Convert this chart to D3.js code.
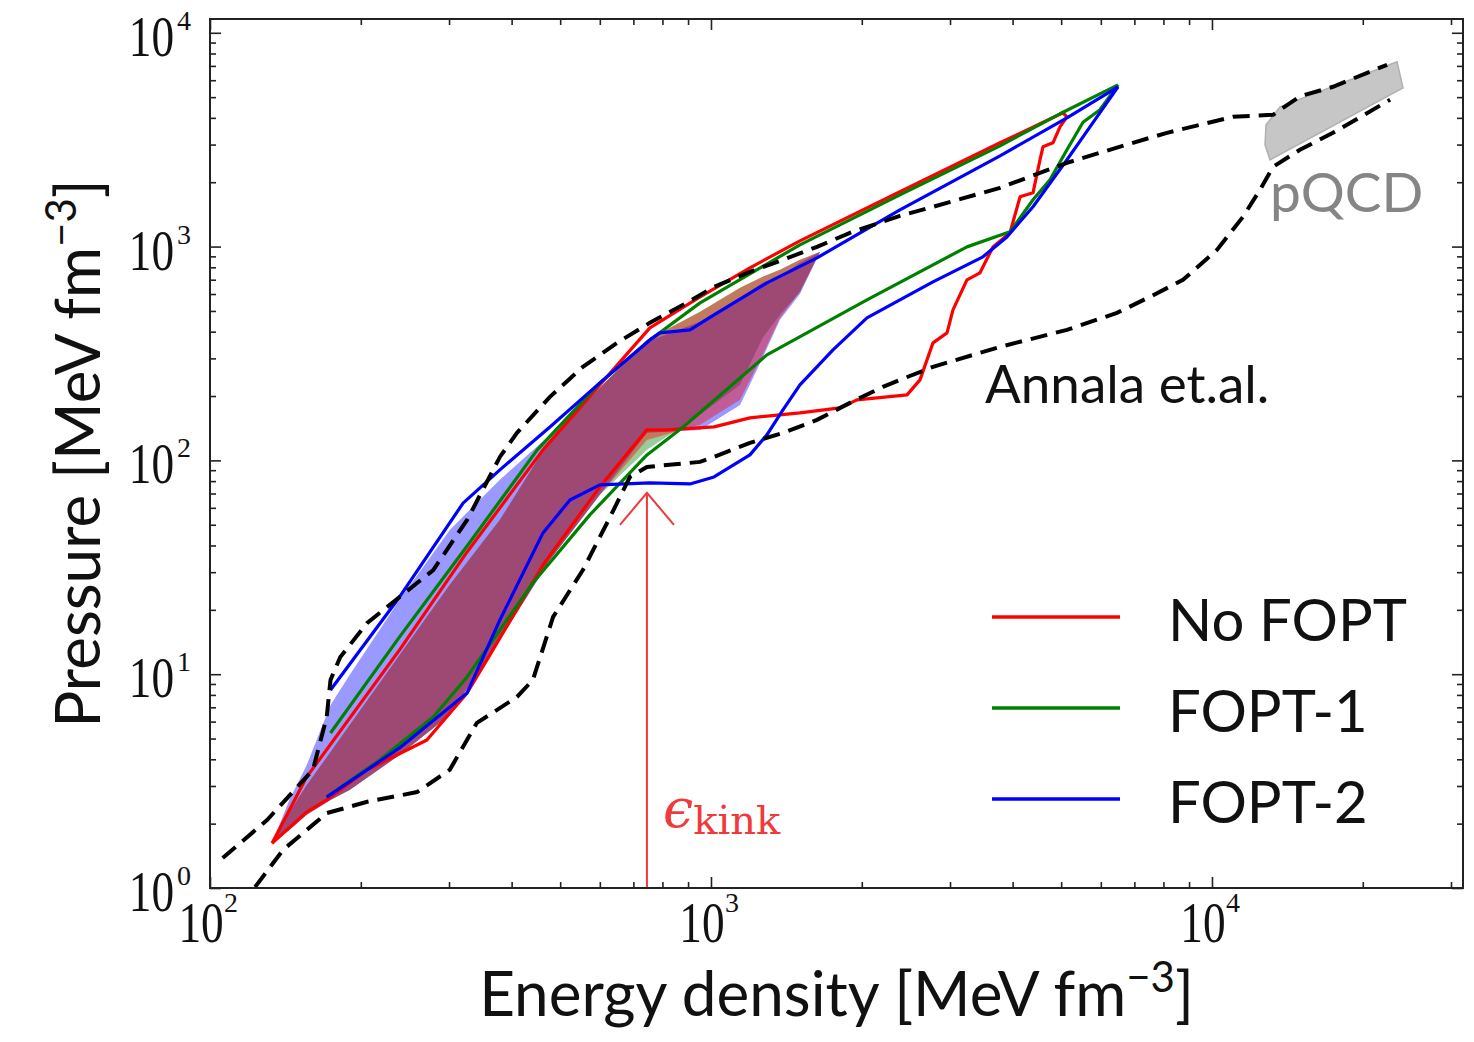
<!DOCTYPE html>
<html><head><meta charset="utf-8">
<script src="https://cdn.jsdelivr.net/npm/d3@7"></script>
<style>body{margin:0;background:#fff}</style>
</head><body>
<svg id="c" width="1474" height="1042"></svg>
<script>
// ---------------- DATA (energy density e, pressure p in MeV fm^-3) ----------------
// shaded bands (common energy grid)
const bandE         = [133,144,156,174,190,239,301,379,477,600,745,951,1143,1268,1373,1505,1651];
const redGreenTop   = [1.62,2.27,3.03,4.33,5.79,12.3,26.2,52.7,124.7,218.4,366,495.1,641.2,722.0,778.4,867,945];
const blueTop       = [1.62,2.58,3.76,7.18,9.92,22.3,47.3,81.1,131.6,218.4,358.4,444.6,575.8,676.8,722.0,839.5,945];
const greenBottom   = [1.62,1.87,2.20,2.58,2.87,4.19,6.45,14.46,34.2,69.0,112,163.3,225.6,374.2,479.5,614.3,945];
const redBottom     = [1.62,1.87,2.20,2.58,2.87,4.19,6.45,14.46,34.2,69.0,124.7,146.6,191.9,311.6,464.3,614.3,945];
const blueBottom    = [1.62,1.87,2.20,2.58,2.87,4.19,6.45,14.46,34.2,69.0,134.5,138.9,181.8,301.7,454.3,600.9,945];

// No FOPT (red)
const redUpperE = [133,156,239,326,462,600,755,951,1196,1505,2383,3775,5042];
const redUpperP = [1.62,3.31,12.99,37.3,112,225.6,416.8,582,795.7,1064,1804,3058,4224];
const redLowerE = [133,156,171,206,271,326,367,462,600,745,817,1014,1196,1505,1809,1956,2462,2613,2774,2959,3041,3243,3443,3655,3952,4139,4393,4536,4599,4815,4973,5135,5042];
const redLowerP = [1.62,2.27,2.58,3.57,4.92,8.17,12.99,32.4,75.2,138.9,138.9,143.4,158.1,166.8,176.1,191.9,202.5,238,354.5,394.9,505.9,699,753.8,997,1160,1709,1784,2546,2929,3058,3633,4046,4224];

// FOPT-1 (green)
const greenUpperE = [174,239,326,450,600,755,951,1505,2383,3775,4973,6493];
const greenUpperP = [5.31,14.94,39.8,112,230.5,366,545.5,1019,1746,2960,4179,5710];
const greenLowerE = [171,218,279,326,379,441,573,745,880,1293,2048,3243,3952,4393,4750,5135,5528,5977,6493];
const greenLowerP = [2.66,3.97,6.31,9.71,16.1,26.7,55.6,106.1,143.4,311.6,563.5,997,1172,1655,2053,2836,3815,4363,5710];

// FOPT-2 (blue)
const blueUpperE = [174,239,320,379,477,600,755,791,908,1014,1293,1628,2383,3775,5135,6493];
const blueUpperP = [8.44,22.98,63.1,90.3,143.4,230.5,366,394.9,407.8,479.5,676.8,886.0,1485,2658,4003,5590];
const blueLowerE = [171,239,326,379,462,523,600,755,908,1014,1196,1293,1392,1505,1752,2048,2383,2774,3490,3897,4393,5135,5528,6493];
const blueLowerP = [2.66,4.52,8.17,17.94,45.8,65.3,76.8,78.5,77.6,83.7,106.1,131.6,172.3,225.6,328.9,464.3,563.5,684.1,895.4,1110,1535,2546,3262,5590];

// Annala et al. envelope (dashed)
const annalaUpperE = [106,130,160.5,171,174,182,206,239,279,326,379,410,477,555,649,755,880,1014,1196,1392,1628,1894,2383,2774,3775,5135,6060,7520,8133,11013,13240,14980,17440,22360];
const annalaUpperP = [1.38,2.08,3.57,6.31,9.40,12.04,17.37,22.98,30.7,52.7,103.8,134.5,198.2,273.8,354.5,439.8,534,648,762,867,997,1160,1393,1535,1883,2465,2775,3228,3405,4046,4135,5045,5590,7085];
const annalaLowerE = [123,140,171,206,259,301,341,410,441,484,555,629,689,745,951,1014,1196,1392,1628,1894,2204,2383,2774,3775,5135,6463,7520,8753,10230,11530,12470,13240,14980,17440,22670];
const annalaLowerP = [1.01,1.51,2.24,2.53,2.81,3.57,5.92,7.83,9.40,18.53,30.7,54.4,83.7,93.2,98.4,103.8,120.8,134.5,154.7,185.8,220.8,238,273.8,339.6,407.8,489.9,582,699,965,1378,1843,2361,2836,3405,4860];

// pQCD region
const pqcdE = [12760,13055,24060,23410,13670,12820];
const pqcdP = [2992,2546,5530,7316,4506,3712];

// kink arrow
const kinkE = 745;
const kinkArrowP = [1, 70.5];

// axes
const xMajor = [100, 1000, 10000];
const xMajorExp = ["2","3","4"];
const yMajor = [1, 10, 100, 1000, 10000];
const yMajorExp = ["0","1","2","3","4"];
const legendLabels = ["No FOPT", "FOPT-1", "FOPT-2"];
const seriesColors = ["#ff0000", "#008000", "#0000ff"];

// ---------------- CHART ----------------
const svg = d3.select("#c");
const X0 = 210, X1 = 1463, Y0 = 888, Y1 = 19;
const x = d3.scaleLog().domain([100, 31700]).range([X0, X1]);
const y = d3.scaleLog().domain([1, 11600]).range([Y0, Y1]);

svg.append("defs").append("clipPath").attr("id", "clip")
  .append("rect").attr("x", X0).attr("y", Y1).attr("width", X1 - X0).attr("height", Y0 - Y1);
const plot = svg.append("g").attr("clip-path", "url(#clip)");

const zip = (es, ps) => es.map((e, i) => [e, ps[i]]);
const line = d3.line().x(d => x(d[0])).y(d => y(d[1]));
const area = d3.area().x(d => x(d[0])).y0(d => y(d[1])).y1(d => y(d[2]));

// bands: green, blue, red (alpha blended)
[[seriesColors[1], greenBottom, redGreenTop],
 [seriesColors[2], blueBottom, blueTop],
 [seriesColors[0], redBottom, redGreenTop]].forEach(([c, lo, hi]) => {
  plot.append("path").datum(bandE.map((e, i) => [e, lo[i], hi[i]]))
    .attr("d", area).attr("fill", c).attr("fill-opacity", 0.4).attr("stroke", "none");
});

// lines
const curves = [
  [redUpperE, redUpperP, seriesColors[0]], [redLowerE, redLowerP, seriesColors[0]],
  [greenUpperE, greenUpperP, seriesColors[1]], [greenLowerE, greenLowerP, seriesColors[1]],
  [blueUpperE, blueUpperP, seriesColors[2]], [blueLowerE, blueLowerP, seriesColors[2]]
];
curves.forEach(([es, ps, c]) => {
  plot.append("path").datum(zip(es, ps)).attr("d", line)
    .attr("fill", "none").attr("stroke", c).attr("stroke-width", 3.2).attr("stroke-linejoin", "round");
});

// pQCD
plot.append("path").datum(zip(pqcdE, pqcdP)).attr("d", d => line(d) + "Z")
  .attr("fill", "#c6c6c6").attr("stroke", "#b0b0b0").attr("stroke-width", 1.5);

// dashed envelope
[[annalaUpperE, annalaUpperP], [annalaLowerE, annalaLowerP]].forEach(([es, ps]) => {
  plot.append("path").datum(zip(es, ps)).attr("d", line)
    .attr("fill", "none").attr("stroke", "#000").attr("stroke-width", 4)
    .attr("stroke-dasharray", "17 9");
});

// kink arrow
const ax0 = x(kinkE), ayTip = y(kinkArrowP[1]);
plot.append("line").attr("x1", ax0).attr("x2", ax0).attr("y1", y(kinkArrowP[0])).attr("y2", ayTip)
  .attr("stroke", "#f03a3a").attr("stroke-width", 2);
plot.append("path").attr("d", `M${ax0 - 27},${ayTip + 32}L${ax0},${ayTip}L${ax0 + 27},${ayTip + 32}`)
  .attr("fill", "none").attr("stroke", "#f03a3a").attr("stroke-width", 2);

// ---------------- AXES ----------------
const xMinor = x.ticks().filter(v => !xMajor.includes(v));
const yMinor = y.ticks().filter(v => !yMajor.includes(v));
function ax(gen, tr, vals, size) {
  svg.append("g").attr("transform", tr)
    .call(gen.tickValues(vals).tickSize(size).tickFormat(""))
    .call(g => g.select(".domain").remove())
    .selectAll("line").attr("stroke", "#222").attr("stroke-width", 1.6);
}
ax(d3.axisBottom(x), `translate(0,${Y0})`, xMajor, -11);
ax(d3.axisBottom(x), `translate(0,${Y0})`, xMinor, -6);
ax(d3.axisTop(x), `translate(0,${Y1})`, xMajor, -11);
ax(d3.axisTop(x), `translate(0,${Y1})`, xMinor, -6);
ax(d3.axisLeft(y), `translate(${X0},0)`, yMajor, -11);
ax(d3.axisLeft(y), `translate(${X0},0)`, yMinor, -6);
ax(d3.axisRight(y), `translate(${X1},0)`, yMajor, -11);
ax(d3.axisRight(y), `translate(${X1},0)`, yMinor, -6);

svg.append("rect").attr("x", X0).attr("y", Y1).attr("width", X1 - X0).attr("height", Y0 - Y1)
  .attr("fill", "none").attr("stroke", "#222").attr("stroke-width", 2);

const serif = "'Liberation Serif', 'DejaVu Serif', serif";
const sans = "Lato, 'Open Sans', sans-serif";

xMajor.forEach((v, i) => {
  const cx = x(v);
  svg.append("text").attr("transform", `translate(${cx - 9},${Y0 + 54}) scale(0.78,1)`)
    .attr("text-anchor", "middle").attr("font-family", serif).attr("font-size", 58).attr("fill", "#111").text("10");
  svg.append("text").attr("x", cx + 14).attr("y", Y0 + 24)
    .attr("font-family", serif).attr("font-size", 28).attr("fill", "#111").text(xMajorExp[i]);
});
yMajor.forEach((v, i) => {
  const cy = y(v);
  svg.append("text").attr("transform", `translate(174,${cy + 23}) scale(0.78,1)`)
    .attr("text-anchor", "end").attr("font-family", serif).attr("font-size", 58).attr("fill", "#111").text("10");
  svg.append("text").attr("x", 177).attr("y", cy - 3)
    .attr("font-family", serif).attr("font-size", 28).attr("fill", "#111").text(yMajorExp[i]);
});

// axis titles
const xt = svg.append("text").attr("x", (X0 + X1) / 2).attr("y", 1016).attr("text-anchor", "middle")
  .attr("font-family", sans).attr("font-size", 62).attr("fill", "#111");
xt.append("tspan").text("Energy density [MeV fm");
xt.append("tspan").attr("dy", -24).attr("font-size", 42).text("\u22123");
xt.append("tspan").attr("dy", 24).text("]");

const yt = svg.append("text").attr("transform", `translate(100,${(Y0 + Y1) / 2}) rotate(-90)`)
  .attr("text-anchor", "middle").attr("font-family", sans).attr("font-size", 62).attr("fill", "#111");
yt.append("tspan").text("Pressure [MeV fm");
yt.append("tspan").attr("dy", -24).attr("font-size", 42).text("\u22123");
yt.append("tspan").attr("dy", 24).text("]");

// legend
const legY = [617, 708, 799];
legendLabels.forEach((lab, i) => {
  svg.append("line").attr("x1", 992).attr("x2", 1120).attr("y1", legY[i]).attr("y2", legY[i])
    .attr("stroke", seriesColors[i]).attr("stroke-width", 3.5);
  svg.append("text").attr("x", 1168).attr("y", legY[i] + 24).attr("font-family", sans)
    .attr("font-size", 58).attr("fill", "#111").text(lab);
});

// annotations
svg.append("text").attr("x", 985).attr("y", 403).attr("font-family", sans).attr("font-size", 53)
  .attr("fill", "#111").text("Annala et.al.");
svg.append("text").attr("x", 1270).attr("y", 212).attr("font-family", sans).attr("font-size", 55)
  .attr("fill", "#858585").text("pQCD");

const kt = svg.append("text").attr("x", x(kinkE) + 16).attr("y", 827).attr("fill", "#f03a3a")
  .attr("font-family", "'DejaVu Serif', 'Liberation Serif', serif");
kt.append("tspan").attr("font-size", 54).attr("font-style", "italic").text("\u03f5");
kt.append("tspan").attr("font-size", 40).attr("dy", 7).text("kink");
</script>
</body></html>
